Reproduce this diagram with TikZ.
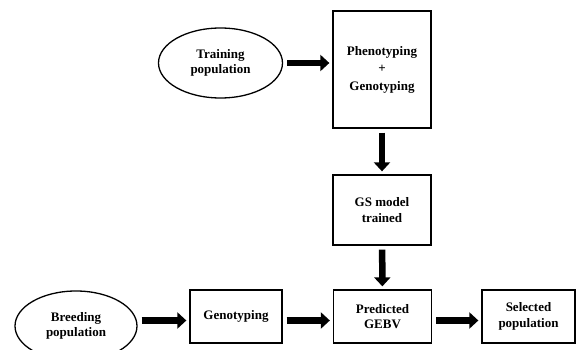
\documentclass[tikz,border=0pt]{standalone}
\usepackage{fontspec}
\setmainfont{Liberation Serif}
\usetikzlibrary{shapes.geometric,arrows.meta}
\begin{document}
\begin{tikzpicture}[x=1pt,y=-1pt,
  every node/.style={font=\fontsize{13}{15.5}\selectfont\bfseries, align=center, inner sep=0pt},
  stepbox/.style={draw, line width=1.3pt, rectangle, minimum width=#1},
  stepbox/.default=98pt,
  popell/.style={draw, line width=1.3pt, ellipse, minimum width=124pt, minimum height=70pt},
  bigarrow/.style={line width=6.5pt, -{Triangle[length=9pt,width=16pt]}, shorten <=4pt, shorten >=3pt}]
\useasboundingbox (0,0) rectangle (576,350);
\node[popell] (train) at (220.5,63) {Training\\population};
\node[stepbox, minimum height=117pt] (pheno) at (382,69.5) {Phenotyping\\[2pt]+\\[2pt]Genotyping};
\node[stepbox, minimum height=70pt] (gs) at (382,210) {GS model\\trained};
\node[stepbox, minimum height=53pt] (pred) at (382.5,316.5) {Predicted\\GEBV};
\node[stepbox=92pt, minimum height=53pt] (geno) at (236,316.5) {Genotyping};
\node[stepbox=93pt, minimum height=53pt] (sel) at (528.5,316.5) {Selected\\population};
\node[popell, minimum width=122pt] (breed) at (76,326) {Breeding\\population};
\draw[bigarrow] (train) -- (train -| pheno.west);
\draw[bigarrow] (pheno) -- (gs);
\draw[bigarrow] (gs) -- (pred);
\draw[bigarrow] ([yshift=-4pt]breed.east |- geno.west) -- ([yshift=-4pt]geno.west);
\draw[bigarrow] ([yshift=-4pt]geno.east) -- ([yshift=-4pt]pred.west);
\draw[bigarrow] ([yshift=-4pt]pred.east) -- ([yshift=-4pt]sel.west);
\end{tikzpicture}
\end{document}
